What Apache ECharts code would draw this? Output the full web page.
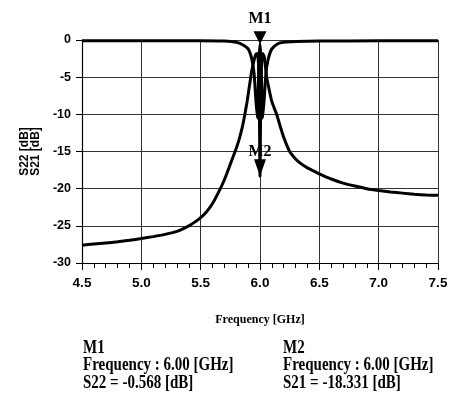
<!DOCTYPE html>
<html><head><meta charset="utf-8">
<script src="https://cdn.jsdelivr.net/npm/echarts@6/dist/echarts.min.js"></script>
<style>html,body{margin:0;padding:0;background:#fff}#c{width:451px;height:405px}</style>
</head><body><div id="c"></div>
<script>
// ---- data ----
const s21Freq = [4.5, 4.6, 4.7, 4.8, 4.9, 5.0, 5.1, 5.2, 5.3, 5.4, 5.45, 5.5, 5.55, 5.6, 5.65, 5.7, 5.75, 5.79, 5.82, 5.85, 5.87, 5.89, 5.91, 5.93, 5.95, 5.965, 5.978, 5.988, 5.995, 6.0, 6.005, 6.012, 6.022, 6.035, 6.045, 6.056, 6.075, 6.1, 6.14, 6.17, 6.2, 6.25, 6.3, 6.35, 6.4, 6.45, 6.5, 6.6, 6.7, 6.8, 6.9, 7.0, 7.1, 7.2, 7.3, 7.4, 7.5];
const s21Val  = [-27.6, -27.45, -27.3, -27.15, -26.95, -26.7, -26.45, -26.15, -25.75, -25.0, -24.5, -23.9, -23.1, -22.0, -20.5, -18.8, -16.7, -15.0, -13.6, -11.8, -10.2, -8.4, -6.3, -4.2, -2.7, -1.9, -1.8, -3.5, -10.0, -18.331, -10.0, -3.5, -1.8, -2.2, -3.5, -5.0, -6.5, -8.3, -10.0, -11.6, -13.1, -15.0, -16.0, -16.7, -17.2, -17.6, -18.0, -18.7, -19.25, -19.65, -20.0, -20.25, -20.45, -20.6, -20.75, -20.85, -20.9];
const s22Freq = [4.5, 5.0, 5.5, 5.7, 5.8, 5.85, 5.9, 5.93, 5.95, 5.965, 5.978, 5.988, 5.995, 6.0, 6.005, 6.012, 6.022, 6.035, 6.05, 6.07, 6.1, 6.15, 6.2, 6.3, 6.5, 7.0, 7.5];
const s22Val  = [-0.1, -0.1, -0.1, -0.15, -0.3, -0.6, -1.2, -2.5, -4.5, -8.0, -10.5, -5.0, -1.8, -0.568, -1.8, -5.0, -10.5, -8.0, -4.5, -2.5, -1.2, -0.5, -0.3, -0.2, -0.15, -0.1, -0.1];
const xTicks = [4.5, 5.0, 5.5, 6.0, 6.5, 7.0, 7.5];
const yTicks = [0, -5, -10, -15, -20, -25, -30];
const markerNames = ['M1', 'M2'];
const markerSeries = ['S22', 'S21'];
const markerFreq = [6.00, 6.00];
const markerValue = [-0.568, -18.331];

const s21 = s21Freq.map((f, i) => [f, s21Val[i]]);
const s22 = s22Freq.map((f, i) => [f, s22Val[i]]);

const chart = echarts.init(document.getElementById('c'), null, {renderer: 'canvas'});
const sans = 'Liberation Sans, Arial';
const serif = 'Liberation Serif, Times New Roman';

function marker(i) {
  return {
    symbol: 'triangle', symbolRotate: 180, symbolSize: i === 0 ? [13, 13] : [12, 17],
    symbolOffset: [0, '-50%'],
    itemStyle: {color: '#000'},
    coord: [markerFreq[i], markerValue[i]],
    label: {show: true, formatter: markerNames[i], position: 'top', distance: i === 0 ? 4 : -1,
      fontFamily: serif, fontWeight: 'bold', fontSize: 16, color: '#000'}
  };
}

const txt = [];
[83, 283].forEach((x, i) => {
  const lines = [markerNames[i],
    'Frequency : ' + markerFreq[i].toFixed(2) + ' [GHz]',
    markerSeries[i] + ' = ' + markerValue[i] + ' [dB]'];
  lines.forEach((t, j) => txt.push({
    type: 'text', x: x, y: 357.7 + j * 17.3, scaleY: 1.25,
    style: {text: t, font: 'bold 15px ' + serif, fill: '#000', textBaseline: 'alphabetic', verticalAlign: 'bottom'}
  }));
});

chart.setOption({
  animation: false,
  backgroundColor: '#fff',
  grid: {left: 82, right: 13, top: 40, bottom: 142, containLabel: false},
  xAxis: {
    type: 'value', min: 4.5, max: 7.5, interval: 0.5,
    name: 'Frequency [GHz]', nameLocation: 'middle', nameGap: 51,
    nameTextStyle: {fontFamily: serif, fontWeight: 'bold', fontSize: 12, color: '#000'},
    axisLine: {show: true, onZero: false, lineStyle: {color: '#000', width: 1}},
    axisTick: {show: true, length: 7, lineStyle: {color: '#000'}},
    minorTick: {show: true, splitNumber: 5, length: 5, lineStyle: {color: '#000'}},
    axisLabel: {margin: 13, formatter: v => v.toFixed(1), fontFamily: sans, fontWeight: 'bold', fontSize: 13.5, color: '#000'},
    splitLine: {show: true, lineStyle: {color: '#333', width: 1}}
  },
  yAxis: {
    type: 'value', min: -30, max: 0, interval: 5,
    name: 'S22 [dB]\nS21 [dB]', nameLocation: 'middle', nameGap: 38, nameRotate: 90,
    nameTextStyle: {fontFamily: sans, fontWeight: 'bold', fontSize: 12, color: '#000', lineHeight: 11},
    axisLine: {show: true, lineStyle: {color: '#000', width: 1.2}},
    axisTick: {show: true, length: 6, lineStyle: {color: '#000'}},
    axisLabel: {margin: 11, fontFamily: sans, fontWeight: 'bold', fontSize: 12.5, color: '#000'},
    splitLine: {show: true, lineStyle: {color: '#333', width: 1}}
  },
  series: [
    {name: 'S22', type: 'line', data: s22, showSymbol: false, smooth: 0.2,
     lineStyle: {color: '#000', width: 3}, markPoint: {data: [marker(0)]}},
    {name: 'S21', type: 'line', data: s21, showSymbol: false, smooth: 0.2,
     lineStyle: {color: '#000', width: 3}, markPoint: {data: [marker(1)]}}
  ],
  graphic: txt
});
</script></body></html>
